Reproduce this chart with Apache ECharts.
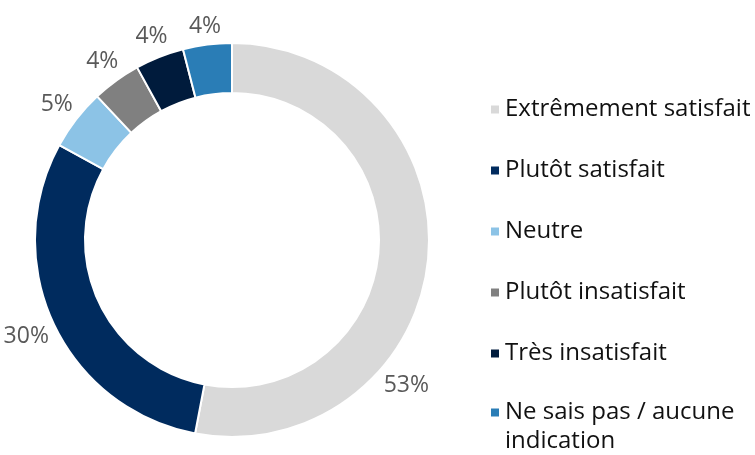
<!DOCTYPE html>
<html>
<head>
<meta charset="utf-8">
<script src="https://cdn.jsdelivr.net/npm/echarts@6/dist/echarts.min.js"></script>
<style>
  html, body { margin: 0; padding: 0; background: #fff; }
  #donut-chart { width: 755px; height: 455px; }
</style>
</head>
<body>
<div id="donut-chart"></div>
<script>
var categories = ['Extrêmement satisfait', 'Plutôt satisfait', 'Neutre', 'Plutôt insatisfait', 'Très insatisfait', 'Ne sais pas / aucune indication'];
var values = [53, 30, 5, 4, 4, 4];
var colors = ['#d9d9d9', '#002b5e', '#8cc3e6', '#808080', '#001b3c', '#2a7db6'];

var chart = echarts.init(document.getElementById('donut-chart'));

var pieData = categories.map(function (name, i) {
  return { name: name, value: values[i], itemStyle: { color: colors[i] } };
});

var legendText = {
  fontFamily: 'Open Sans',
  fontSize: 24,
  color: '#111',
  lineHeight: 29
};

// place each label just outside the ring, centred on its slice direction
// (the big slice's label sits further round, like the original)
function placeLabel(params) {
  var data = chart.getModel().getSeriesByIndex(0).getData();
  var lay = data.getItemLayout(params.dataIndex);
  var frac = params.dataIndex === 0 ? 0.68 : 0.5;
  var a = lay.startAngle + frac * (lay.endAngle - lay.startAngle);
  var ux = Math.cos(a), uy = Math.sin(a);
  var w = params.labelRect.width, h = params.labelRect.height;
  var R = lay.r + 5 + Math.abs(ux) * w / 2 + Math.abs(uy) * h / 2;
  return {
    x: lay.cx + R * ux,
    y: lay.cy + R * uy,
    align: 'center',
    verticalAlign: 'middle'
  };
}

var option = {
  backgroundColor: '#fff',
  animation: false,
  legend: [{
    orient: 'vertical',
    left: 489,
    top: 95,
    padding: 0,
    itemWidth: 10,
    itemHeight: 10,
    itemGap: 32,
    icon: 'rect',
    data: categories.slice(0, 5),
    textStyle: legendText
  }, {
    orient: 'vertical',
    left: 489,
    top: 369,
    padding: 0,
    itemWidth: 10,
    itemHeight: 10,
    icon: 'rect',
    data: categories.slice(5),
    formatter: function (name) {
      // blank first line keeps the first text line level with the icon
      return ' \n' + name.replace(' indication', '\nindication');
    },
    textStyle: legendText
  }],
  series: [{
    type: 'pie',
    center: [232, 240],
    radius: [147, 197],
    startAngle: 90,
    clockwise: true,
    avoidLabelOverlap: false,
    itemStyle: {
      borderColor: '#fff',
      borderWidth: 2
    },
    label: {
      show: true,
      position: 'outside',
      formatter: '{c}%',
      fontFamily: 'Open Sans',
      fontSize: 23,
      color: '#595959'
    },
    labelLine: {
      show: false,
      length: 6,
      length2: 0
    },
    labelLayout: placeLabel,
    data: pieData
  }]
};

chart.setOption(option);
</script>
</body>
</html>
